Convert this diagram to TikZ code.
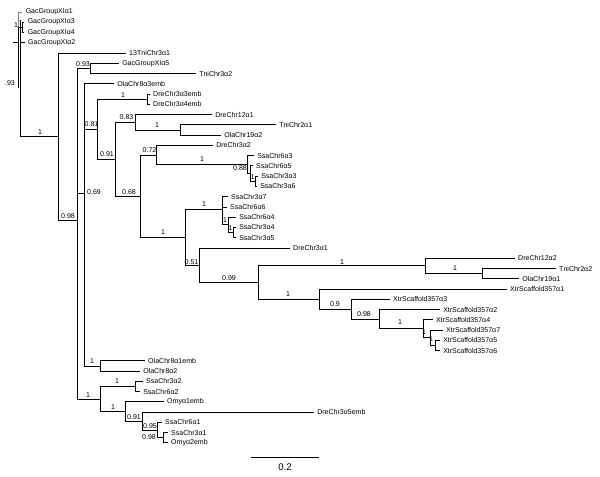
\documentclass[tikz,border=0pt]{standalone}
\usepackage{fontspec}
\setmainfont{Liberation Sans}
\usetikzlibrary{calc}

\begin{document}
\begin{tikzpicture}[x=0.02cm, y=-0.02cm, line width=0.5pt,
    leaf/.style={anchor=west, inner sep=0pt, xshift=1.6pt, font=\fontsize{4}{4.5}\selectfont},
    supp/.style={inner sep=0pt, font=\fontsize{4}{4.5}\selectfont}]
        \useasboundingbox (0,0) rectangle (600,477);

        % tips: name/x/row/label
        \foreach \n/\x/\i/\t in {gac1/22.5/1/GacGroupXIα1, gac3/24.5/2/GacGroupXIα3, gac4/24.5/3/GacGroupXIα4,
            gac2/25/4/GacGroupXIα2, tni3a1/126/5/13TniChr3α1, gac5/119/6/GacGroupXIα5, tni3a2/196/7/TniChr3α2,
            ola8a3/114/8/OlaChr8α3emb, dre3a3/150/9/DreChr3α3emb, dre3a4/150/10/DreChr3α4emb,
            dre12a1/212/11/DreChr12α1, tni2a1/276/12/TniChr2α1, ola19a2/221/13/OlaChr19α2,
            dre3a2/213/14/DreChr3α2, ssa6a3/254/15/SsaChr6α3, ssa6a5/253/16/SsaChr6α5,
            ssa3a3/258/17/SsaChr3α3, ssa3a6/257/18/SsaChr3α6, ssa3a7/228/19/SsaChr3α7,
            ssa6a6/227/20/SsaChr6α6, ssa6a4/236/21/SsaChr6α4, ssa3a4/236/22/SsaChr3α4,
            ssa3a5/236/23/SsaChr3α5, dre3a1/290/24/DreChr3α1, dre12a2/515/25/DreChr12α2,
            tni2a2/556/26/TniChr2α2, ola19a1/519/27/OlaChr19α1, xtr1/507/28/XtrScaffold357α1,
            xtr3/390/29/XtrScaffold357α3, xtr2/440/30/XtrScaffold357α2, xtr4/433/31/XtrScaffold357α4,
            xtr7/443/32/XtrScaffold357α7, xtr5/440/33/XtrScaffold357α5, xtr6/440/34/XtrScaffold357α6,
            ola8a1/145/35/OlaChr8α1emb, ola8a2/140/36/OlaChr8α2, ssa3a2/143/37/SsaChr3α2,
            ssa6a2/140/38/SsaChr6α2, omy1/164/39/Omyα1emb, dre3a5/314/40/DreChr3α5emb,
            ssa6a1/162/41/SsaChr6α1, ssa3a1/168/42/SsaChr3α1, omy2/168/43/Omyα2emb} {
            \coordinate (\n) at (\x,{12+(\i-1)*10.26});
            \node[leaf] (\n-t) at (\n) {\t};
        }

        % inner nodes
        \foreach \n/\x/\y in {gA/22.7/27.4, nTop/58/136.6, n098/77/220.2, n093/90/68.5, n069/84/193,
            n081/97/129.2, nD/147/99.2, n091/115/159.3, n083/135/122.3, nQ1/180/130, n068/140/196.2,
            n072/156/155, nR3/247/164.6, nR2/250/173.6, nR1/255/181.3, nS4/185/237.4, nS3/222/209.5,
            nS2/228/224.9, nS1/233/232.6, n051/199/265.2, n099/258/282.5, nU/425/265.9, nT/482/273.6,
            nXf/319/299.1, nXe/351/309.2, nXd/379/319.2, nXc/423/328.8, nXb/430/337.8, nXa/435/345.5,
            nO/100/366, nP6/100/399, nP5/135/386.5, nP4/125/411.5, nP3/142/421.1, nP2/157/430.1,
            nP1/163/437.8} {
            \coordinate (\n) at (\x,\y);
        }

        \foreach \p/\c in {gA/gac3, gA/gac4, nTop/tni3a1, nTop/n098, n098/n093, n098/n069, n098/nP6,
            n093/gac5, n093/tni3a2, n069/ola8a3, n069/n081, n069/nO, n081/nD, n081/n091,
            nD/dre3a3, nD/dre3a4, n091/n083, n091/n068, n083/dre12a1, n083/nQ1, nQ1/tni2a1, nQ1/ola19a2,
            n068/n072, n068/nS4, n072/dre3a2, n072/nR3, nR3/ssa6a3, nR3/nR2, nR2/ssa6a5, nR2/nR1,
            nR1/ssa3a3, nR1/ssa3a6, nS4/nS3, nS4/n051, nS3/ssa3a7, nS3/ssa6a6, nS3/nS2,
            nS2/ssa6a4, nS2/nS1, nS1/ssa3a4, nS1/ssa3a5, n051/dre3a1, n051/n099, n099/nU, n099/nXf,
            nU/dre12a2, nU/nT, nT/tni2a2, nT/ola19a1, nXf/xtr1, nXf/nXe, nXe/xtr3, nXe/nXd,
            nXd/xtr2, nXd/nXc, nXc/xtr4, nXc/nXb, nXb/xtr7, nXb/nXa, nXa/xtr5, nXa/xtr6,
            nO/ola8a1, nO/ola8a2, nP6/nP5, nP6/nP4, nP5/ssa3a2, nP5/ssa6a2, nP4/omy1, nP4/nP3,
            nP3/dre3a5, nP3/nP2, nP2/ssa6a1, nP2/nP1, nP1/ssa3a1, nP1/omy2} {
            \draw (\p) |- (\c);
        }

        % base of the tree
        \coordinate (gB) at (18.5,88);
        \coordinate (gD) at (13,42.8);
        \coordinate (rt) at (20.7,20);
        \draw[gray] (gB) |- (gac1);
        \draw (gB) |- (gA);
        \draw (rt) |- (nTop);
        \draw (rt) |- (gac2);
        \draw (gD) -- (gB |- gD);

        % support values
        \foreach \n/\x/\y/\t in {s1/16/25/1, s2/10/83/.93, s3/40/132/1, s4/83/64/0.93, s5/68/216/0.98,
            s6/94/192/0.69, s7/91.5/124/0.81, s8/123/95/1, s9/126.5/117/0.83, s10/157/125/1,
            s11/107/154/0.91, s12/149.5/150/0.72, s13/202/159/1, s14/240/168/0.88, s15/252.5/177/1,
            s16/129/192/0.68, s17/163/232/1, s18/204/204/1, s19/225/220/1, s20/230.5/228/1,
            s21/191.5/262/0.51, s22/229/278/0.99, s23/342/262/1, s24/455/268/1, s25/288/294/1,
            s26/335/304/0.9, s27/364/314/0.98, s28/400/322/1, s29/424/332/1, s30/431/339/1,
            s31/92/361/1, s32/88/395/1, s33/117/381/1, s34/113/407/1, s35/134/417/0.91,
            s36/150/426/0.95, s37/149/437/0.98} {
            \node[supp] (\n) at (\x,\y) {\t};
        }

        % scale
        \coordinate (sc1) at (251,457);
        \coordinate (sc2) at (319,457);
        \draw (sc1) -- node[supp, font=\fontsize{5.5}{6}\selectfont, below=0.13cm] (scl) {0.2} (sc2);
    \end{tikzpicture}
\end{document}
